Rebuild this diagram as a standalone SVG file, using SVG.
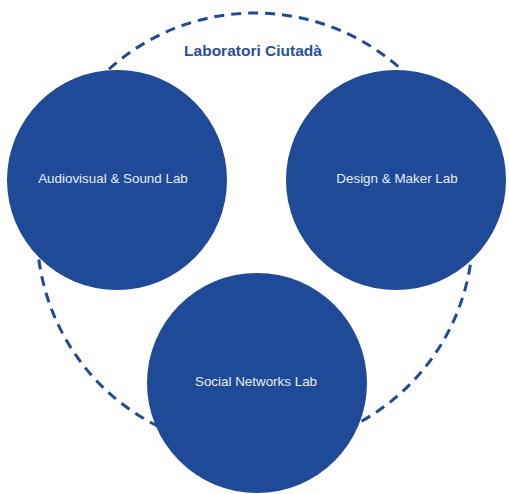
<svg xmlns="http://www.w3.org/2000/svg" width="509" height="494" viewBox="0 0 509 494">
<style>
.lab{fill:#1f4a97}
.lbl{fill:#e8ecf4;font-family:"Liberation Sans",Arial,sans-serif;font-size:13.4px;text-anchor:middle}
.ring{fill:none;stroke:#1f4a97;stroke-width:3;stroke-dasharray:10 7}
.title{fill:#2a4f9a;font-family:"Liberation Sans",Arial,sans-serif;font-size:15.5px;font-weight:bold;text-anchor:middle}
</style>
<rect width="509" height="494" fill="#ffffff"/>
<g id="connectors">
<circle class="ring" cx="255" cy="231" r="218"/>
</g>
<text class="title" x="253" y="56">Laboratori Ciutadà</text>
<g id="audiovisual">
<circle class="lab" cx="117" cy="180" r="110"/>
<text class="lbl" x="113" y="183">Audiovisual &amp; Sound Lab</text>
</g>
<g id="design">
<circle class="lab" cx="396" cy="180" r="110"/>
<text class="lbl" x="397" y="183">Design &amp; Maker Lab</text>
</g>
<g id="social">
<circle class="lab" cx="257" cy="383" r="110"/>
<text class="lbl" x="256" y="386">Social Networks Lab</text>
</g>
</svg>
